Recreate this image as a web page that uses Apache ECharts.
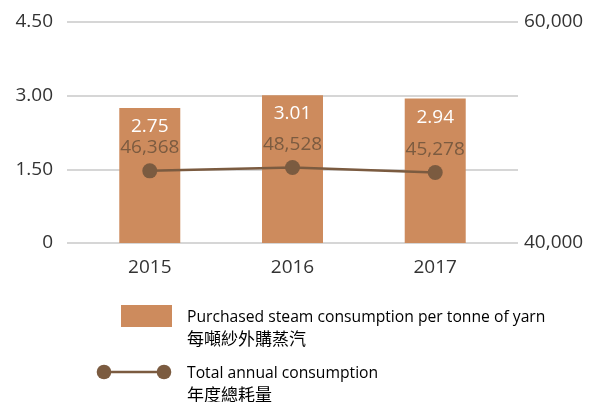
<!DOCTYPE html>
<html>
<head>
<meta charset="utf-8">
<script src="https://cdn.jsdelivr.net/npm/echarts@6/dist/echarts.min.js"></script>
<style>html,body{margin:0;padding:0;background:#fff}#c{width:592px;height:402px}</style>
</head>
<body>
<div id="c"></div>
<script>
var years = [2015, 2016, 2017];
var steamPerTonne = [2.75, 3.01, 2.94];
var totalAnnual = [46368, 48528, 45278];
var leftTicks = [0, 1.5, 3, 4.5];
var rightTicks = [40000, 60000];
var seriesNames = ['Purchased steam consumption per tonne of yarn', 'Total annual consumption'];
var seriesNamesZh = ['每噸紗外購蒸汽', '年度總耗量'];

var BAR = '#CD8B5D', LINE = '#7B5B40';
var FONT = '"Open Sans", "Noto Sans CJK TC", sans-serif';

var rich = {
  en: {fontSize: 15.7, fontFamily: FONT, color: '#444', lineHeight: 21},
  zh: {fontSize: 17, fontFamily: '"Noto Sans CJK TC", sans-serif', color: '#444', lineHeight: 21}
};

var chart = echarts.init(document.getElementById('c'));
chart.setOption({
  animation: false,
  grid: {left: 67, right: 74, top: 22, bottom: 159},
  xAxis: {
    type: 'value', min: 2014.42, max: 2017.58,
    axisLine: {show: false}, axisTick: {show: false}, splitLine: {show: false},
    axisLabel: {customValues: years, formatter: function (v) { return String(v); },
      color: '#333', fontSize: 19, fontFamily: FONT, margin: 15}
  },
  yAxis: [
    {type: 'value', min: leftTicks[0], max: leftTicks[leftTicks.length - 1], interval: leftTicks[1] - leftTicks[0],
      axisLine: {show: false}, axisTick: {show: false},
      splitLine: {lineStyle: {color: '#c8c8c8', width: 1.5}},
      axisLabel: {formatter: function (v) { return v === 0 ? '0' : v.toFixed(2); },
        color: '#333', fontSize: 19, fontFamily: FONT, margin: 14}},
    {type: 'value', position: 'right', min: rightTicks[0], max: rightTicks[1], interval: rightTicks[1] - rightTicks[0],
      axisLine: {show: false}, axisTick: {show: false}, splitLine: {show: false},
      axisLabel: {formatter: function (v) { return v.toLocaleString('en-US'); },
        color: '#333', fontSize: 19, fontFamily: FONT, margin: 6}},
    {type: 'value', show: false, min: 0, max: 142000}
  ],
  series: [
    {name: seriesNames[0], type: 'bar', yAxisIndex: 0, barWidth: 61,
      data: years.map(function (y, i) { return [y, steamPerTonne[i]]; }),
      itemStyle: {color: BAR},
      label: {show: true, position: 'insideTop', distance: 9, color: '#fff', fontSize: 19, fontFamily: FONT,
        formatter: function (p) { return p.value[1].toFixed(2); }}},
    {name: seriesNames[1], type: 'line', yAxisIndex: 2, z: 5,
      data: years.map(function (y, i) { return [y, totalAnnual[i]]; }),
      lineStyle: {color: LINE, width: 2.5}, itemStyle: {color: LINE},
      symbol: 'circle', symbolSize: 15,
      label: {show: true, position: 'top', distance: 6, color: LINE, fontSize: 19, fontFamily: FONT,
        formatter: function (p) { return p.value[1].toLocaleString('en-US'); }}}
  ],
  graphic: [
    {type: 'rect', shape: {x: 121, y: 305, width: 51, height: 22}, style: {fill: BAR}},
    {type: 'text', left: 187, top: 310, style: {text: '{en|' + seriesNames[0] + '}\n{zh|' + seriesNamesZh[0] + '}', rich: rich}},
    {type: 'line', shape: {x1: 104, y1: 372, x2: 164, y2: 372}, style: {stroke: LINE, lineWidth: 2.5}},
    {type: 'circle', shape: {cx: 104, cy: 372, r: 7.3}, style: {fill: LINE}},
    {type: 'circle', shape: {cx: 164, cy: 372, r: 7.3}, style: {fill: LINE}},
    {type: 'text', left: 187, top: 366, style: {text: '{en|' + seriesNames[1] + '}\n{zh|' + seriesNamesZh[1] + '}', rich: rich}}
  ]
});
</script>
</body>
</html>
